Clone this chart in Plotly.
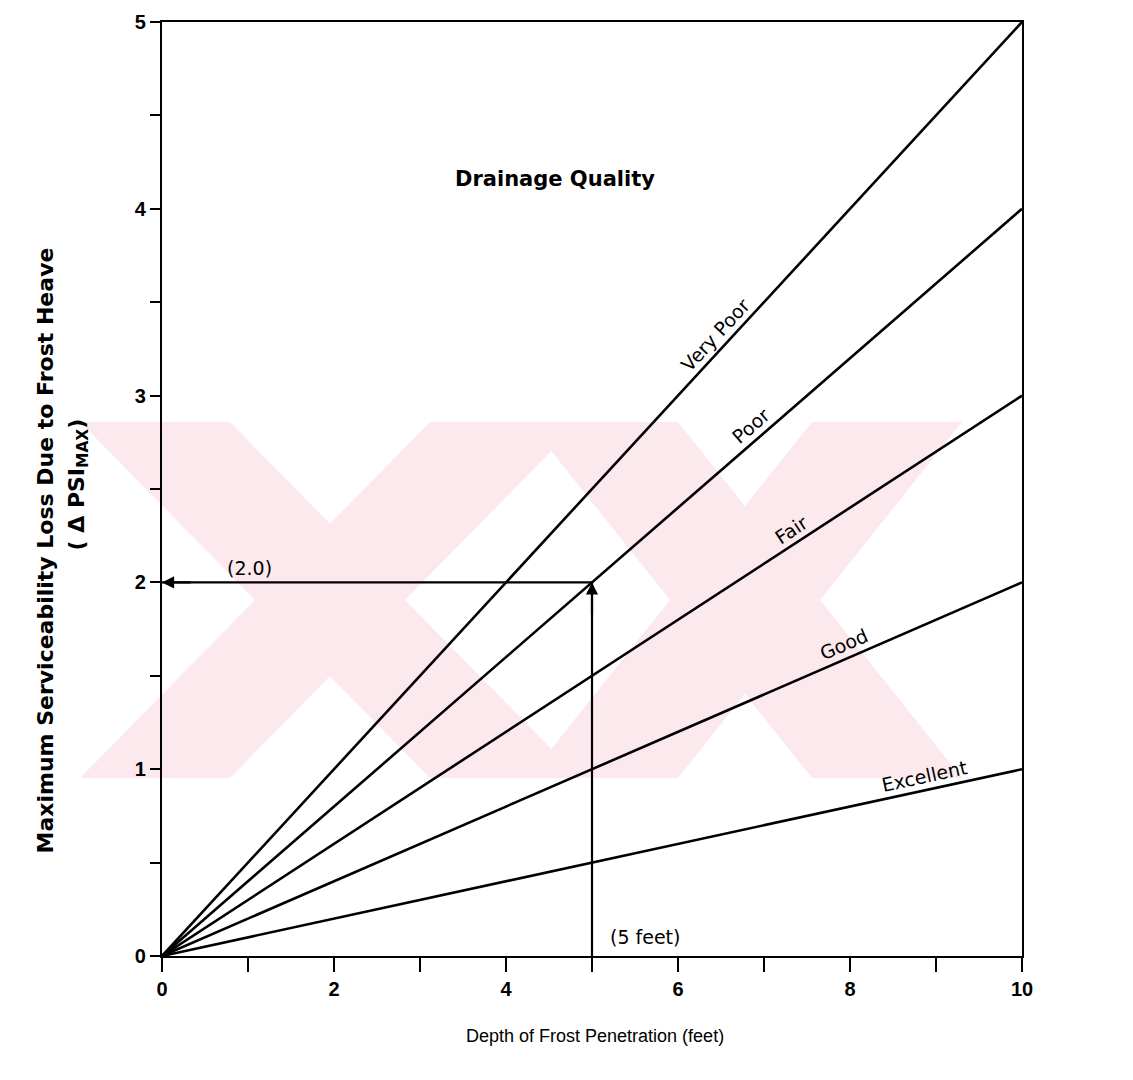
import math
import plotly.graph_objects as go

# ---------------- data ----------------
drainage_quality = ["Very Poor", "Poor", "Fair", "Good", "Excellent"]
depth_ft = [0, 10]                       # x end points of each line
psi_loss_at_0 = [0.0, 0.0, 0.0, 0.0, 0.0]
psi_loss_at_10 = [5.0, 4.0, 3.0, 2.0, 1.0]
label_depth = [6.55, 6.95, 7.4, 8.0, 8.9]  # where each curve name sits

example_depth = 5.0
example_psi = 2.0

x_tickvals = [0, 1, 2, 3, 4, 5, 6, 7, 8, 9, 10]
x_ticktext = ["0", "", "2", "", "4", "", "6", "", "8", "", "10"]
y_tickvals = [0, 0.5, 1, 1.5, 2, 2.5, 3, 3.5, 4, 4.5, 5]
y_ticktext = ["0", "", "1", "", "2", "", "3", "", "4", "", "5"]

# ---------------- layout geometry ----------------
W, H = 1133, 1080
ML, MR, MT, MB = 162, 111, 22, 124
PW, PH = W - ML - MR, H - MT - MB
XR, YR = (0, 10), (0, 5)
px_per_x = PW / (XR[1] - XR[0])
px_per_y = PH / (YR[1] - YR[0])

FONT = "Liberation Sans, Arial, sans-serif"
WIDE = "DejaVu Sans, Verdana, sans-serif"
fig = go.Figure()


def to_paper(px, py):
    return (px - ML) / PW, (H - MB - py) / PH


# faint background watermark (decorative, pixel-placed)
WM_TOP, WM_BOT, WM_HALF = 422, 778, 75
wm_bands = [(155, 505), (505, 155), (603, 887), (887, 603)]
shapes = []
for xt, xb in wm_bands:
    pts = [to_paper(xt - WM_HALF, WM_TOP), to_paper(xt + WM_HALF, WM_TOP),
           to_paper(xb + WM_HALF, WM_BOT), to_paper(xb - WM_HALF, WM_BOT)]
    path = "M " + " L ".join("%.4f,%.4f" % p for p in pts) + " Z"
    shapes.append(dict(type="path", path=path, xref="paper", yref="paper",
                       fillcolor="rgb(252,233,237)", line=dict(width=0),
                       layer="below"))

for name, y0, y1 in zip(drainage_quality, psi_loss_at_0, psi_loss_at_10):
    fig.add_trace(go.Scatter(
        x=depth_ft, y=[y0, y1], mode="lines", name=name,
        line=dict(color="black", width=2.6), showlegend=False, hoverinfo="skip"))

# example guide line: (0,2) <- (5,2) <- (5,0)
fig.add_trace(go.Scatter(
    x=[0, example_depth, example_depth], y=[example_psi, example_psi, 0],
    mode="lines", line=dict(color="black", width=2.2),
    showlegend=False, hoverinfo="skip"))

annotations = []
# arrowheads of the example
annotations.append(dict(x=0, y=example_psi, ax=0.35, ay=example_psi,
                        xref="x", yref="y", axref="x", ayref="y", text="",
                        showarrow=True, arrowhead=2, arrowsize=1.1,
                        arrowwidth=2.2, arrowcolor="black"))
annotations.append(dict(x=example_depth, y=example_psi, ax=example_depth,
                        ay=example_psi - 0.18, xref="x", yref="y",
                        axref="x", ayref="y", text="", showarrow=True,
                        arrowhead=2, arrowsize=1.1, arrowwidth=2.2,
                        arrowcolor="black"))

# curve labels, rotated along each line
for name, y1, lx in zip(drainage_quality, psi_loss_at_10, label_depth):
    slope = (y1 / 10.0) * px_per_y / px_per_x
    theta = math.atan(slope)
    ly = y1 / 10.0 * lx
    d = 14
    annotations.append(dict(
        x=lx, y=ly, xref="x", yref="y", text=name, showarrow=False,
        textangle=-math.degrees(theta),
        xshift=-d * math.sin(theta), yshift=d * math.cos(theta),
        font=dict(family=WIDE, size=19, color="black")))

annotations.append(dict(x=4.57, y=4.16, xref="x", yref="y",
                        text="<b>Drainage Quality</b>", showarrow=False,
                        font=dict(family=WIDE, size=21, color="black")))
annotations.append(dict(x=1.02, y=example_psi, xref="x", yref="y",
                        text="(2.0)", showarrow=False, yshift=14,
                        font=dict(family=WIDE, size=19, color="black")))
annotations.append(dict(x=example_depth, y=0, xref="x", yref="y",
                        text="(5 feet)", showarrow=False, xanchor="left",
                        xshift=16, yshift=19,
                        font=dict(family=WIDE, size=19, color="black")))

# y axis title (two lines)
annotations.append(dict(x=(30 - ML) / PW, y=(H - MB - 551) / PH,
                        xref="paper", yref="paper", textangle=-90,
                        text="<b>Maximum Serviceability Loss Due to Frost Heave</b>",
                        showarrow=False,
                        font=dict(family=WIDE, size=22, color="black")))
annotations.append(dict(x=(62 - ML) / PW, y=(H - MB - 485) / PH,
                        xref="paper", yref="paper", textangle=-90,
                        text="<b>( \u0394 PSI<sub>MAX</sub>)</b>",
                        showarrow=False,
                        font=dict(family=WIDE, size=22, color="black")))
# x axis title
annotations.append(dict(x=(595 - ML) / PW, y=-(1048 - (H - MB)) / PH,
                        xref="paper", yref="paper",
                        text="Depth of Frost Penetration (feet)",
                        showarrow=False,
                        font=dict(family=FONT, size=18, color="black")))

fig.update_layout(
    width=W, height=H,
    margin=dict(l=ML, r=MR, t=MT, b=MB),
    paper_bgcolor="white", plot_bgcolor="white",
    annotations=annotations, shapes=shapes,
    font=dict(family=FONT, color="black"),
)
fig.update_xaxes(range=list(XR), tickvals=x_tickvals,
                 ticktext=["<b>%s</b>" % t if t else "" for t in x_ticktext],
                 ticks="outside", ticklen=14, tickwidth=2, tickcolor="black",
                 showline=True, linecolor="black", linewidth=2.4, mirror=True,
                 showgrid=False, zeroline=False,
                 tickfont=dict(family=FONT, size=20, color="black"))
fig.update_yaxes(range=list(YR), tickvals=y_tickvals,
                 ticktext=["<b>%s</b>" % t if t else "" for t in y_ticktext],
                 ticks="outside", ticklen=10, tickwidth=2, tickcolor="black",
                 showline=True, linecolor="black", linewidth=2.4, mirror=True,
                 showgrid=False, zeroline=False,
                 tickfont=dict(family=FONT, size=20, color="black"))

fig.write_html("out.html")
